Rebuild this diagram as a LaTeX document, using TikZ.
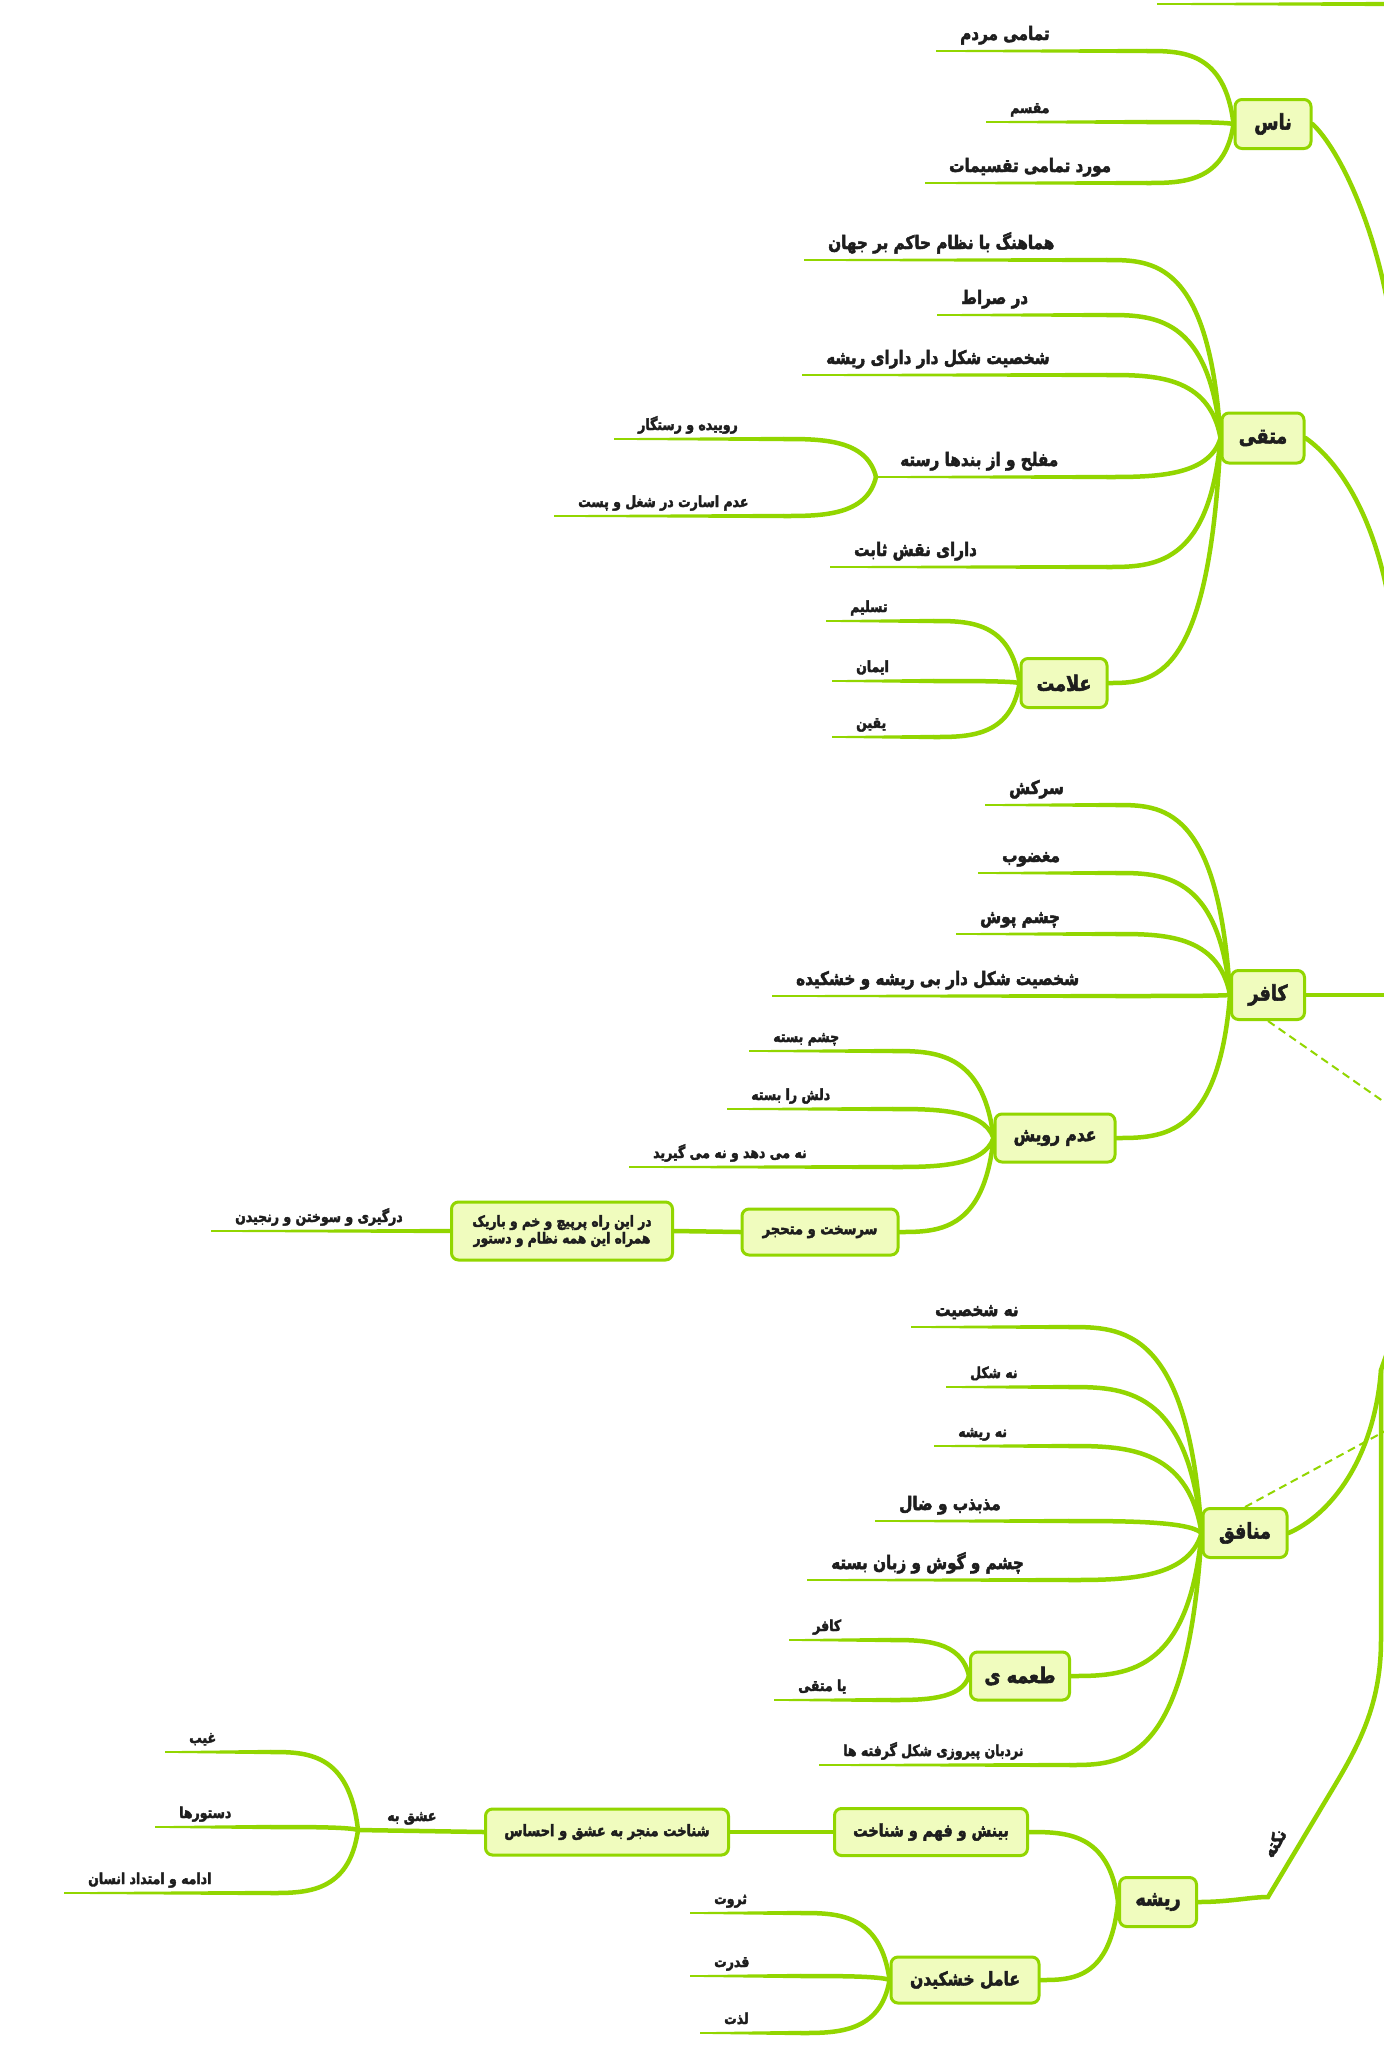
\documentclass[tikz,border=0pt]{standalone}
\usepackage{fontspec}
\usetikzlibrary{calc}
\newfontfamily\pfont[Script=Arabic, UprightFont={* Bold}, FakeStretch=0.82, FakeBold=2.5]{DejaVu Sans}
\TeXXeTstate=1
\definecolor{lg}{RGB}{146,214,0}
\definecolor{nf}{RGB}{240,252,190}
\definecolor{tx}{RGB}{30,30,30}
\tikzset{
 mnode/.style={draw=lg, fill=nf, line width=3bp, rounded corners=7bp, inner sep=0pt, text=tx, font=\pfont\fontsize{21.5}{23}\selectfont, align=center},
 big/.style={inner sep=0pt, text=tx, font=\pfont\fontsize{18.6}{20}\selectfont, anchor=base west, yshift=11bp},
 small/.style={inner sep=0pt, text=tx, font=\pfont\fontsize{15.3}{17}\selectfont, anchor=base west, yshift=9bp},
 conn/.style={draw=lg, line width=4.5bp, line cap=round},
 dashconn/.style={draw=lg, line width=2bp, dash pattern=on 8bp off 5bp},
}
\newcommand\curveto[2]{%
 \draw[conn] let \p1=(#1), \p2=(#2) in (\p1) .. controls ({\x1+0.1*(\x2-\x1)},\y2) and ({\x1+0.6*(\x2-\x1)},\y2) .. (\p2);}
\newcommand\taper[2]{%
 \fill[lg] let \p1=(#1), \p2=(#2) in (\x1,\y1+0.8bp) -- (\x2,\y2+2.2bp) -- (\x2,\y2-2.2bp) -- (\x1,\y1-0.8bp) -- cycle;}
\newcommand\leaf[6]{%
 \coordinate (#1-l) at (#2,#4);
 \coordinate (#1-r) at (#3,#4);
 \taper{#1-l}{#1-r}
 \node[#5] (#1) at ($(#1-l)+(24,0)$) {#6};
}
\begin{document}
\begin{tikzpicture}[x=1bp,y=-1bp]
\useasboundingbox (0,0) rectangle (1384,2050);
\fill[white] (0,0) rectangle (1384,2050);
\clip (0,0) rectangle (1384,2050);

% off-canvas ends
\coordinate (top-l) at (1157,4);
\coordinate (top-r) at (1400,4);
\taper{top-l}{top-r}
\coordinate (e1) at (1392,330);
\coordinate (e2) at (1392,620);
\coordinate (e3) at (1400,995);
\coordinate (e4) at (1400,1113);
\coordinate (e5) at (1395,1330);
\coordinate (e6) at (1400,1423);
\coordinate (rc1) at (1268,1897);
\coordinate (rc2) at (1335,1785);
\coordinate (rc3) at (1381,1640);
\coordinate (rc4) at (1381,1370);

% main nodes
\node[mnode, minimum width=76bp, minimum height=49bp] (nas) at (1273,124) {\beginR ناس\endR};
\node[mnode, minimum width=82bp, minimum height=50bp] (mot) at (1263,438) {\beginR متقی\endR};
\node[mnode, minimum width=86bp, minimum height=49bp] (alam) at (1064,683) {\beginR علامت\endR};
\node[mnode, minimum width=73bp, minimum height=49bp] (kaf) at (1268,995) {\beginR کافر\endR};
\node[mnode, minimum width=120bp, minimum height=48bp, font=\pfont\fontsize{19}{21}\selectfont] (adam) at (1055,1138) {\beginR عدم رویش\endR};
\node[mnode, minimum width=156bp, minimum height=46bp, font=\pfont\fontsize{16}{18}\selectfont] (sar) at (820,1232) {\beginR سرسخت و متحجر\endR};
\node[mnode, minimum width=221bp, minimum height=58bp, font=\pfont\fontsize{15}{17}\selectfont] (dar) at (562,1231) {\beginR در این راه پرپیچ و خم و باریک\endR\\\beginR همراه این همه نظام و دستور\endR};
\node[mnode, minimum width=84bp, minimum height=49bp] (mon) at (1245,1533) {\beginR منافق\endR};
\node[mnode, minimum width=99bp, minimum height=48bp] (tam) at (1020,1676) {\beginR طعمه ی\endR};
\node[mnode, minimum width=77bp, minimum height=49bp] (rish) at (1158,1902) {\beginR ریشه\endR};
\node[mnode, minimum width=193bp, minimum height=47bp, font=\pfont\fontsize{17.5}{19}\selectfont] (bin) at (931,1832) {\beginR بینش و فهم و شناخت\endR};
\node[mnode, minimum width=243bp, minimum height=46bp, font=\pfont\fontsize{16}{18}\selectfont] (shen) at (607,1832) {\beginR شناخت منجر به عشق و احساس\endR};
\node[mnode, minimum width=148bp, minimum height=46bp, font=\pfont\fontsize{19}{21}\selectfont] (amel) at (965,1980) {\beginR عامل خشکیدن\endR};

% connections to the right (off canvas)
\draw[conn] (nas.east) .. controls (1340,150) and (1378,230) .. (e1);
\draw[conn] (mot.east) .. controls (1340,462) and (1378,520) .. (e2);
\draw[conn] (kaf.east) -- (e3);
\draw[dashconn] (kaf.south) -- (e4);
\draw[conn] (mon.east) .. controls (1330,1515) and (1374,1460) .. (rc4) -- (e5);
\draw[dashconn] (mon.north) -- (e6);
\draw[conn] (rish.east) .. controls (1230,1902) and (1250,1897) .. (rc1) -- (rc2) .. controls (1362,1740) and (1381,1700) .. (rc3) -- (rc4);
\node[rotate=59, inner sep=0pt, text=tx, font=\pfont\fontsize{18}{20}\selectfont] (nokte) at (1274,1843) {\beginR نکته\endR};

% naas
\leaf{n1}{936}{1147}{51}{big}{\beginR تمامی مردم\endR}
\leaf{n2}{986}{1147}{122}{small}{\beginR مقسم\endR}
\leaf{n3}{925}{1147}{183}{big}{\beginR مورد تمامی تقسیمات\endR}
\curveto{nas.west}{n1-r}
\curveto{nas.west}{n2-r}
\curveto{nas.west}{n3-r}

% mottaqi
\leaf{m1}{804}{1107}{260}{big}{\beginR هماهنگ با نظام حاکم بر جهان\endR}
\leaf{m2}{937}{1107}{315}{big}{\beginR در صراط\endR}
\leaf{m3}{802}{1107}{375}{big}{\beginR شخصیت شکل دار دارای ریشه\endR}
\leaf{m4}{876}{1107}{477}{big}{\beginR مفلح و از بندها رسته\endR}
\leaf{m5}{830}{1107}{567}{big}{\beginR دارای نقش ثابت\endR}
\curveto{mot.west}{m1-r}
\curveto{mot.west}{m2-r}
\curveto{mot.west}{m3-r}
\curveto{mot.west}{m4-r}
\curveto{mot.west}{m5-r}
\curveto{mot.west}{alam.east}
\leaf{m41}{614}{784}{439}{small}{\beginR روییده و رستگار\endR}
\leaf{m42}{554}{784}{516}{small}{\beginR عدم اسارت در شغل و پست\endR}
\curveto{m4-l}{m41-r}
\curveto{m4-l}{m42-r}

% alamat
\leaf{a1}{826}{934}{621}{small}{\beginR تسلیم\endR}
\leaf{a2}{832}{934}{681}{small}{\beginR ایمان\endR}
\leaf{a3}{832}{934}{737}{small}{\beginR یقین\endR}
\curveto{alam.west}{a1-r}
\curveto{alam.west}{a2-r}
\curveto{alam.west}{a3-r}

% kafar
\leaf{k1}{985}{1116}{805}{big}{\beginR سرکش\endR}
\leaf{k2}{978}{1116}{873}{big}{\beginR مغضوب\endR}
\leaf{k3}{956}{1116}{934}{big}{\beginR چشم پوش\endR}
\leaf{k4}{772}{1116}{996}{big}{\beginR شخصیت شکل دار بی ریشه و خشکیده\endR}
\curveto{kaf.west}{k1-r}
\curveto{kaf.west}{k2-r}
\curveto{kaf.west}{k3-r}
\curveto{kaf.west}{k4-r}
\curveto{kaf.west}{adam.east}

% adam-e ruyesh
\leaf{d1}{749}{893}{1051}{small}{\beginR چشم بسته\endR}
\leaf{d2}{727}{893}{1109}{small}{\beginR دلش را بسته\endR}
\leaf{d3}{629}{893}{1167}{small}{\beginR نه می دهد و نه می گیرید\endR}
\curveto{adam.west}{d1-r}
\curveto{adam.west}{d2-r}
\curveto{adam.west}{d3-r}
\curveto{adam.west}{sar.east}
\draw[conn] (sar.west) -- (dar.east);
\leaf{g1}{211}{451}{1231}{small}{\beginR درگیری و سوختن و رنجیدن\endR}

% monafegh
\leaf{p1}{911}{1069}{1327}{big}{\beginR نه شخصیت\endR}
\leaf{p2}{946}{1069}{1387}{small}{\beginR نه شکل\endR}
\leaf{p3}{934}{1069}{1446}{small}{\beginR نه ریشه\endR}
\leaf{p4}{875}{1069}{1521}{big}{\beginR مذبذب و ضال\endR}
\leaf{p5}{807}{1069}{1580}{big}{\beginR چشم و گوش و زبان بسته\endR}
\leaf{p6}{819}{1070}{1765}{small}{\beginR نردبان پیروزی شکل گرفته ها\endR}
\curveto{mon.west}{p1-r}
\curveto{mon.west}{p2-r}
\curveto{mon.west}{p3-r}
\curveto{mon.west}{p4-r}
\curveto{mon.west}{p5-r}
\curveto{mon.west}{tam.east}
\curveto{mon.west}{p6-r}
\leaf{t1}{789}{891}{1640}{small}{\beginR کافر\endR}
\leaf{t2}{774}{891}{1700}{small}{\beginR یا متقی\endR}
\curveto{tam.west}{t1-r}
\curveto{tam.west}{t2-r}

% risheh
\curveto{rish.west}{bin.east}
\curveto{rish.west}{amel.east}
\leaf{r1}{690}{801}{1913}{small}{\beginR ثروت\endR}
\leaf{r2}{690}{801}{1976}{small}{\beginR قدرت\endR}
\leaf{r3}{700}{801}{2033}{small}{\beginR لذت\endR}
\curveto{amel.west}{r1-r}
\curveto{amel.west}{r2-r}
\curveto{amel.west}{r3-r}
\draw[conn] (bin.west) -- (shen.east);
\coordinate (eshq) at (358,1830);
\draw[conn] (shen.west) -- (eshq);
\node[small] (eshqt) at (387,1830) {\beginR عشق به\endR};
\leaf{s1}{165}{271}{1752}{small}{\beginR غیب\endR}
\leaf{s2}{155}{271}{1827}{small}{\beginR دستورها\endR}
\leaf{s3}{64}{271}{1893}{small}{\beginR ادامه و امتداد انسان\endR}
\curveto{eshq}{s1-r}
\curveto{eshq}{s2-r}
\curveto{eshq}{s3-r}
\end{tikzpicture}
\end{document}
